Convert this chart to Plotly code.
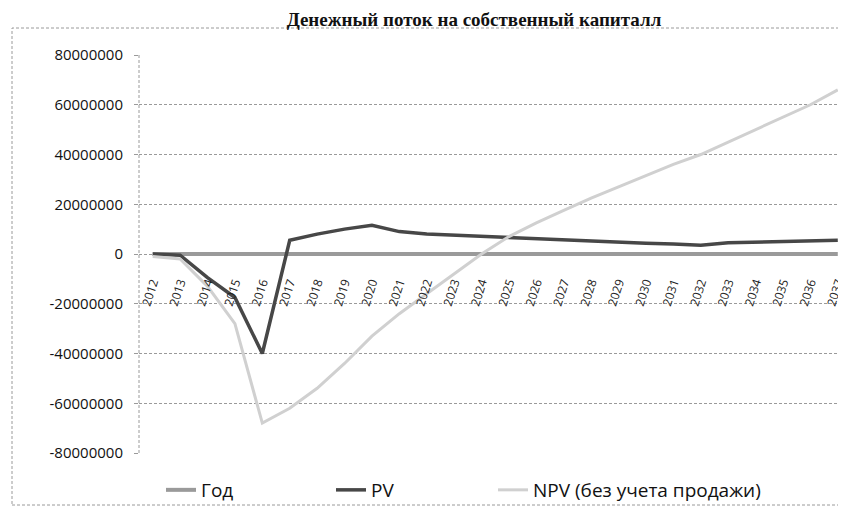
import plotly.graph_objects as go

years = [str(y) for y in range(2012, 2038)]
god = [float(y) for y in range(2012, 2038)]
pv = [0, -0.5e6, -9.5e6, -17.5e6, -40e6, 5.5e6, 8e6, 10e6, 11.5e6, 9e6, 8e6, 7.5e6, 7e6,
      6.5e6, 6e6, 5.5e6, 5e6, 4.7e6, 4.3e6, 4e6, 3.5e6, 4.5e6, 4.8e6, 5e6, 5.3e6, 5.5e6]
npv = [-1e6, -2e6, -13e6, -28e6, -68e6, -62e6, -54e6, -44e6, -33e6, -24e6, -16e6, -8e6, 0,
       7e6, 12.5e6, 17.5e6, 22.5e6, 27e6, 31.5e6, 36e6, 40e6, 45e6, 50e6, 55e6, 60e6, 66e6]
ytick_vals = [-80e6, -60e6, -40e6, -20e6, 0, 20e6, 40e6, 60e6, 80e6]
ytick_text = ["-80000000", "-60000000", "-40000000", "-20000000", "0",
              "20000000", "40000000", "60000000", "80000000"]

FONT = "Open Sans"
fig = go.Figure()
fig.add_trace(go.Scatter(x=years, y=god, mode="lines", name="Год", showlegend=True,
                         line=dict(color="#9a9a9a", width=4), legend="legend"))
fig.add_trace(go.Scatter(x=years, y=pv, mode="lines", name="PV", showlegend=True,
                         line=dict(color="#474747", width=3.5), legend="legend2"))
fig.add_trace(go.Scatter(x=years, y=npv, mode="lines", name="NPV (без учета продажи)",
                         showlegend=True,
                         line=dict(color="#d0d0d0", width=3), legend="legend3"))

# page offset of 8px (body margin)
OFF = 8
W, H = 846 - OFF, 509 - OFF
PL, PR, PT, PB = 139, 846, 55, 453   # plot area in page pixels
L, R, T, B = PL - OFF, 846 - PR, PT - OFF, 509 - PB
pw, ph = PR - PL, PB - PT

def px_x(p):
    return (p - PL) / pw

def px_y(p):
    return (PB - p) / ph

leg_common = dict(orientation="h", yanchor="middle", xanchor="left",
                  font=dict(family=FONT, size=19, color="#111"),
                  bgcolor="rgba(0,0,0,0)", itemwidth=30)

fig.update_layout(
    width=W, height=H, showlegend=True,
    margin=dict(l=L, r=R, t=T, b=B, autoexpand=False),
    paper_bgcolor="white", plot_bgcolor="white",
    title=dict(text="<b>Денежный поток на собственный капиталл</b>",
               font=dict(family="Liberation Serif", size=19, color="#111"),
               x=(474 - OFF) / W, xanchor="center", xref="container",
               y=1 - (19 - OFF) / H, yanchor="middle", yref="container"),
    xaxis=dict(type="category", range=[-0.5, 25.3], anchor="free", position=0.5,
               showgrid=False, showline=False, ticks="", tickangle=-72,
               ticklabelstandoff=18, automargin=False,
               tickfont=dict(family=FONT, size=12, color="#222")),
    yaxis=dict(range=[-80e6, 80e6], tickvals=ytick_vals, ticktext=ytick_text,
               showgrid=True, gridcolor="#9a9a9a", gridwidth=1, griddash="3px,2px",
               zeroline=False, showline=False, ticks="outside", ticklen=4,
               tickcolor="#9a9a9a", ticklabelstandoff=8, automargin=False,
               tickfont=dict(family=FONT, size=15, color="#111")),
    legend=dict(x=px_x(161), y=px_y(490), **leg_common),
    legend2=dict(x=px_x(331), y=px_y(490), **leg_common),
    legend3=dict(x=px_x(493), y=px_y(490), **leg_common),
    shapes=[
        dict(type="line", xref="paper", yref="paper", x0=0, x1=0, y0=0, y1=1,
             line=dict(color="#9a9a9a", width=1, dash="3px,2px")),
        dict(type="rect", xref="paper", yref="paper",
             x0=px_x(12), x1=px_x(852), y0=px_y(505), y1=px_y(28),
             line=dict(color="#9a9a9a", width=1, dash="3px,2px"),
             fillcolor="rgba(0,0,0,0)", layer="below"),
    ],
)

fig.write_html("out.html")
